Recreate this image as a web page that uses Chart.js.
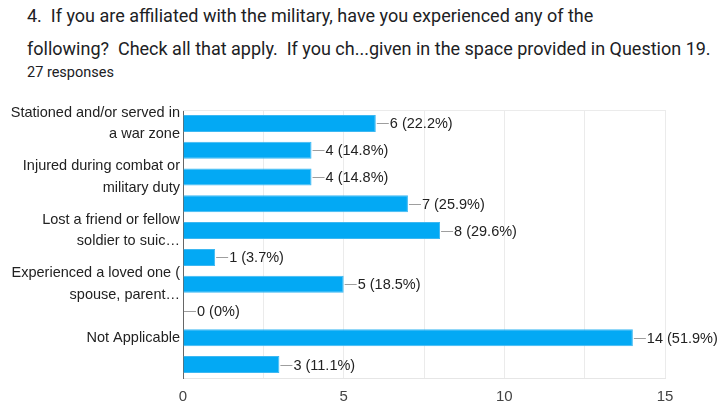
<!DOCTYPE html>
<html>
<head>
<meta charset="utf-8">
<script src="https://cdn.jsdelivr.net/npm/chart.js@4"></script>
<style>
  body { margin: 0; background: #fff; width: 719px; height: 406px; overflow: hidden; position: relative; }
  .title { position: absolute; left: 27px; top: -1px; font-family: Roboto, sans-serif; font-size: 18px; line-height: 33px; color: #202124; white-space: nowrap; }
  .count { position: absolute; left: 27px; top: 64px; font-family: Roboto, sans-serif; font-size: 14.5px; color: #202124; }
  #wrap { position: absolute; left: 0; top: 95px; width: 719px; height: 311px; }
</style>
</head>
<body>
<div class="title">4.&nbsp; If you are affiliated with the military, have you experienced any of the<br>following?&nbsp; Check all that apply.&nbsp; If you ch...given in the space provided in Question 19.</div>
<div class="count">27 responses</div>
<div id="wrap"><canvas id="chart"></canvas></div>
<script>
document.addEventListener("DOMContentLoaded", () => {
    // Answer options (only every other one gets a visible label)
    const categories = [
        ["Stationed and/or served in", "a war zone"],
        "",
        ["Injured during combat or", "military duty"],
        "",
        ["Lost a friend or fellow", "soldier to suic\u2026"],
        "",
        ["Experienced a loved one (", "spouse, parent\u2026"],
        "",
        "Not Applicable",
        ""
    ];
    const counts = [6, 4, 4, 7, 8, 1, 5, 0, 14, 3];
    const totalResponses = 27;
    const xTicks = [0, 5, 10, 15];

    // value label with a short leader line at the end of each bar
    const valueLabels = {
        id: "valueLabels",
        afterDatasetsDraw(chart) {
            const ctx = chart.ctx;
            const meta = chart.getDatasetMeta(0);
            ctx.save();
            ctx.font = "14.5px 'Liberation Sans', Arial, sans-serif";
            ctx.textBaseline = "middle";
            ctx.textAlign = "left";
            meta.data.forEach((bar, i) => {
                const v = counts[i];
                const pct = Math.round(v / totalResponses * 1000) / 10;
                const x = bar.x + 1;
                ctx.strokeStyle = "#9e9e9e";
                ctx.lineWidth = 1;
                ctx.beginPath();
                ctx.moveTo(x, Math.round(bar.y) + 0.5);
                ctx.lineTo(x + 12, Math.round(bar.y) + 0.5);
                ctx.stroke();
                ctx.fillStyle = "#222";
                ctx.fillText(v + " (" + pct + "%)", x + 13, bar.y + 1);
            });
            ctx.restore();
        }
    };

    // light frame line along the top of the plot area
    const topFrame = {
        id: "topFrame",
        beforeDatasetsDraw(chart) {
            const { ctx, chartArea } = chart;
            ctx.save();
            ctx.strokeStyle = "#ebebeb";
            ctx.lineWidth = 1;
            ctx.beginPath();
            ctx.moveTo(chartArea.left, chartArea.top + 0.5);
            ctx.lineTo(chartArea.right, chartArea.top + 0.5);
            ctx.stroke();
            ctx.restore();
        }
    };

    const ctx = document.getElementById("chart").getContext("2d");
    new Chart(ctx, {
        type: "bar",
        data: {
            labels: categories,
            datasets: [{
                data: counts,
                backgroundColor: "#03a9f4",
                borderColor: "#3db8f2",
                borderWidth: 1,
                barPercentage: 0.635,
                categoryPercentage: 1
            }]
        },
        options: {
            indexAxis: "y",
            responsive: true,
            maintainAspectRatio: false,
            animation: false,
            layout: { padding: { top: 15, right: 54, left: 0, bottom: 0 } },
            plugins: { legend: { display: false }, tooltip: { enabled: false } },
            scales: {
                x: {
                    min: 0,
                    max: 15,
                    ticks: {
                        stepSize: 2.5,
                        autoSkip: false,
                        maxRotation: 0,
                        padding: 10,
                        color: "#444",
                        font: { family: "'Liberation Sans', Arial, sans-serif", size: 15 },
                        callback: (v) => xTicks.includes(v) ? String(v) : ""
                    },
                    grid: {
                        color: (c) => c.tick && c.tick.value === 0 ? "#666" : "#ebebeb",
                        drawTicks: false
                    },
                    border: { color: "#e6e6e6" },
                    afterFit: (axis) => { axis.height = 28; }
                },
                y: {
                    ticks: {
                        autoSkip: false,
                        padding: 3,
                        color: "#222",
                        font: { family: "'Liberation Sans', Arial, sans-serif", size: 14.5, lineHeight: 1.5 }
                    },
                    grid: { display: false, drawTicks: false },
                    border: { color: "#666" },
                    afterFit: (axis) => { axis.width = 183; }
                }
            }
        },
        plugins: [topFrame, valueLabels]
    });
});
</script>
</body>
</html>
